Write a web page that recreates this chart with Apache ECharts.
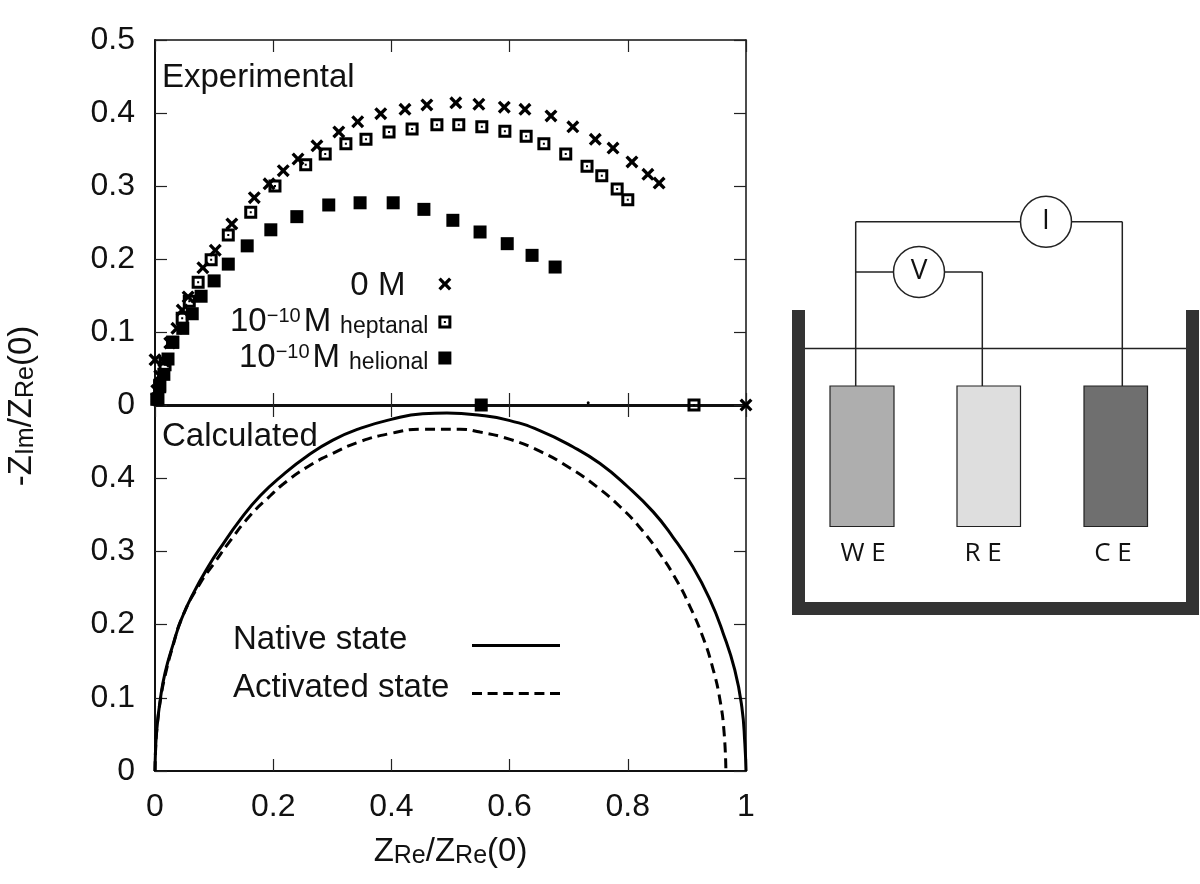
<!DOCTYPE html>
<html><head><meta charset="utf-8">
<style>html,body{margin:0;padding:0;background:#fff}#c{width:1200px;height:884px}</style>
<script src="https://cdn.jsdelivr.net/npm/echarts@6/dist/echarts.min.js"></script>
</head><body><div id="c"></div>
<script>
const crossValues=[[0.003,0.02],[0.008,0.04],[0.015,0.06],[0.025,0.085],[0,0.062],[0.037,0.105],[0.046,0.13],[0.056,0.148],[0.081,0.188],[0.102,0.212],[0.13,0.248],[0.168,0.284],[0.193,0.303],[0.217,0.321],[0.242,0.337],[0.274,0.355],[0.311,0.374],[0.343,0.388],[0.382,0.399],[0.423,0.405],[0.46,0.411],[0.509,0.414],[0.548,0.412],[0.591,0.408],[0.626,0.405],[0.67,0.396],[0.707,0.381],[0.745,0.364],[0.775,0.352],[0.807,0.333],[0.834,0.316],[0.853,0.304],[1,0]];
const heptanalValues=[[0.003,0.008],[0.008,0.027],[0.017,0.055],[0.03,0.086],[0.046,0.119],[0.058,0.142],[0.073,0.168],[0.095,0.199],[0.124,0.233],[0.162,0.264],[0.203,0.3],[0.255,0.329],[0.288,0.344],[0.323,0.358],[0.357,0.364],[0.396,0.374],[0.435,0.378],[0.477,0.384],[0.514,0.384],[0.553,0.381],[0.592,0.375],[0.628,0.368],[0.658,0.358],[0.695,0.344],[0.731,0.327],[0.756,0.314],[0.782,0.296],[0.8,0.281],[0.912,0]];
const helionalValues=[[0.005,0.008],[0.008,0.025],[0.015,0.042],[0.022,0.063],[0.03,0.086],[0.047,0.105],[0.063,0.125],[0.078,0.149],[0.1,0.17],[0.124,0.193],[0.156,0.218],[0.196,0.24],[0.24,0.258],[0.294,0.274],[0.347,0.277],[0.403,0.277],[0.455,0.268],[0.504,0.253],[0.55,0.237],[0.596,0.221],[0.638,0.205],[0.677,0.189],[0.552,0]];
const speckValues=[[0.733,0.003]];
const nativeValues=[[0,0],[0.001,0.03],[0.003,0.056],[0.009,0.098],[0.017,0.134],[0.031,0.174],[0.045,0.208],[0.065,0.243],[0.093,0.283],[0.11,0.304],[0.144,0.343],[0.178,0.376],[0.217,0.405],[0.257,0.43],[0.301,0.452],[0.347,0.468],[0.398,0.48],[0.453,0.488],[0.494,0.489],[0.55,0.486],[0.599,0.479],[0.651,0.465],[0.707,0.443],[0.753,0.42],[0.799,0.389],[0.843,0.354],[0.876,0.32],[0.91,0.279],[0.939,0.234],[0.961,0.189],[0.981,0.138],[0.993,0.087],[0.998,0.038],[1,0]];
const activatedValues=[[0,0],[0.001,0.03],[0.003,0.056],[0.009,0.096],[0.017,0.13],[0.03,0.17],[0.047,0.212],[0.076,0.256],[0.102,0.286],[0.124,0.311],[0.161,0.349],[0.195,0.376],[0.217,0.392],[0.257,0.415],[0.301,0.434],[0.347,0.45],[0.398,0.461],[0.453,0.467],[0.516,0.467],[0.55,0.463],[0.601,0.453],[0.651,0.437],[0.702,0.414],[0.748,0.388],[0.787,0.361],[0.821,0.332],[0.854,0.297],[0.883,0.26],[0.905,0.225],[0.927,0.183],[0.944,0.14],[0.956,0.097],[0.963,0.052],[0.966,0]];
const xLabel='{m|Z}{s|Re}{m|/Z}{s|Re}{m|(0)}';
const yLabel='{m|-Z}{s|Im}{m|/Z}{s|Re}{m|(0)}';
const FONT='"Liberation Sans",Arial,sans-serif', DIAGRAM_FONT='"Open Sans","Noto Sans",sans-serif';
const FS=32, TXT=33;
const crossPath='path://M2 0L5.5 3.5L9 0L11 2L7.5 5.5L11 9L9 11L5.5 7.5L2 11L0 9L3.5 5.5L0 2Z';
const openPath='path://M0 0H13V13H0Z M3 3V10H10V3Z M5.5 5.5H7.5V7.5H5.5Z';
const fullPath='path://M0 0H13V13H0Z';
const solidKey='path://M0 0H88V3H0Z';
const dashKey='path://M0 0H10V3H0Z M15.6 0H25.6V3H15.6Z M31.2 0H41.2V3H31.2Z M46.8 0H56.8V3H46.8Z M62.4 0H72.4V3H62.4Z M78 0H88V3H78Z';
const nameRich={m:{fontFamily:FONT,fontSize:TXT,fill:'#111',color:'#111',verticalAlign:'top',lineHeight:34},
  s:{fontFamily:FONT,fontSize:25,fill:'#111',color:'#111',verticalAlign:'bottom',lineHeight:25,padding:[20,0,0,0]}};
const lg={fontFamily:FONT,fontSize:TXT,color:'#111'};
const legendRich={
  z:{...lg,lineHeight:32,padding:[3,28,0,0]},
  m:{...lg,lineHeight:32,verticalAlign:'bottom',padding:[3,0,0,0]},
  k:{...lg,lineHeight:32,verticalAlign:'bottom',padding:[3,0,0,3]},
  u:{fontFamily:FONT,fontSize:20,color:'#111',verticalAlign:'top',lineHeight:20},
  h:{fontFamily:FONT,fontSize:23,color:'#111',verticalAlign:'bottom',lineHeight:23,padding:[0,5,0,9]},
  w:{...lg,width:234,align:'left',lineHeight:33,padding:[0,0,12,0]}
};
const tick={show:true,inside:true,length:12,lineStyle:{color:'#222',width:1.2}};
function xa(gridIndex,position,width,extra){return Object.assign({type:'value',gridIndex,position,min:0,max:1,interval:0.2,splitLine:{show:false},
  axisLine:{show:true,onZero:false,lineStyle:{color:'#111',width}},axisTick:tick,axisLabel:{show:false}},extra||{});}
function ya(gridIndex,position,width,extra){return Object.assign({type:'value',gridIndex,position,min:0,max:0.5,interval:0.1,splitLine:{show:false},
  axisLine:{show:true,onZero:false,lineStyle:{color:'#111',width}},axisTick:tick,axisLabel:{show:false}},extra||{});}
const scatter=(name,data,symbol,symbolSize)=>({name,type:'scatter',xAxisIndex:0,yAxisIndex:0,data,symbol,symbolSize,clip:false,itemStyle:{color:'#000',opacity:1},emphasis:{disabled:true}});
const curve=(name,data,type)=>({name,type:'line',xAxisIndex:2,yAxisIndex:2,data,showSymbol:false,symbol:'none',smooth:0.5,clip:false,lineStyle:{color:'#000',width:3,type},itemStyle:{color:'#000'},emphasis:{disabled:true}});
const wire={stroke:'#222',lineWidth:1.5,fill:null};
const ln=(x1,y1,x2,y2)=>({type:'line',shape:{x1,y1,x2,y2},style:wire,z:10});
const rc=(x,y,width,height,fill,stroke,lw)=>({type:'rect',shape:{x,y,width,height},style:{fill,stroke:stroke||null,lineWidth:lw||0},z:11});
const circ=(cx,cy,r)=>({type:'circle',shape:{cx,cy,r},style:{fill:'#fff',stroke:'#222',lineWidth:1.5},z:12});
const dt=(x,y,text,fs)=>({type:'text',x,y,z:13,style:{text,x:0,y:0,fill:'#111',font:(fs||26)+'px '+DIAGRAM_FONT,textAlign:'center',textVerticalAlign:'middle'}});
const pt=(x,y,text)=>({type:'text',x,y,z:13,style:{text,x:0,y:0,fill:'#111',font:TXT+'px '+FONT,textAlign:'left',textVerticalAlign:'middle'}});
const yTickLabel=f=>({show:true,fontFamily:FONT,fontSize:FS,color:'#111',margin:20,lineHeight:32,padding:[6,0,0,0],formatter:f});
const option={
  animation:false,backgroundColor:'#fff',
  grid:[{left:155,top:40,width:591,height:365,outerBoundsMode:'none'},{left:155,top:405,width:591,height:366,outerBoundsMode:'none'}],
  xAxis:[xa(0,'bottom',3),xa(0,'top',1.5),
    xa(1,'bottom',2,{axisLabel:{show:true,fontFamily:FONT,fontSize:FS,color:'#111',margin:20,formatter:v=>String(v)},
      name:xLabel,nameLocation:'middle',nameGap:64,nameTextStyle:{rich:nameRich}}),
    xa(1,'top',1.5)],
  yAxis:[ya(0,'left',2,{axisLabel:yTickLabel(v=>String(v))}),ya(0,'right',1.5),
    ya(1,'left',2,{axisLabel:yTickLabel(v=>v>=0.5?'':String(v))}),
    ya(1,'right',1.5)],
  legend:[
   {show:true,left:225,top:261,orient:'vertical',align:'right',itemWidth:13,itemHeight:13,itemGap:0,selectedMode:false,
    data:[{name:'0 M',icon:crossPath},{name:'heptanal',icon:openPath},{name:'helional',icon:fullPath}],
    formatter:n=>n==='0 M'?'{z|0 M}':'{m|10}{u|−10}{k|M}{h|'+n+'}',
    textStyle:{rich:legendRich,fontFamily:FONT,fontSize:TXT}},
   {show:true,left:228,top:618,orient:'vertical',align:'right',itemWidth:88,itemHeight:3,itemGap:3,selectedMode:false,
    data:[{name:'Native state',icon:solidKey},{name:'Activated state',icon:dashKey}],
    formatter:n=>'{w|'+n+'}',
    textStyle:{rich:legendRich,fontFamily:FONT,fontSize:TXT}}
  ],
  graphic:{elements:[
    pt(162,78,'Experimental'),pt(162,437,'Calculated'),
    {type:'text',x:22,y:406,rotation:Math.PI/2,z:13,style:{text:yLabel,rich:nameRich,align:'center',verticalAlign:'middle',fontFamily:FONT,fontSize:TXT}},
    ln(805,348.5,1186,348.5),ln(855.7,386,855.7,221.7),ln(855.7,221.7,1122.3,221.7),ln(1122.3,221.7,1122.3,386),
    ln(855.7,272,982.3,272),ln(982.3,272,982.3,386),
    rc(792,310,13,305,'#333'),rc(1186,310,13,305,'#333'),rc(792,602,407,13,'#333'),
    rc(830,386,64,140.5,'#aeaeae','#222',1.2),rc(957,386,63.5,140.5,'#dedede','#222',1.2),rc(1084,386,63.5,140.5,'#6f6f6f','#222',1.2),
    circ(919,272,25.5),circ(1046,221.7,25.5),
    dt(919,271,'V',28),dt(1046,221,'I',28),dt(863,554,'W E'),dt(983,554,'R E'),dt(1113,554,'C E')
  ]},
  series:[
    scatter('0 M',crossValues,crossPath,13),
    scatter('heptanal',heptanalValues,openPath,13),
    scatter('helional',helionalValues,fullPath,13),
    scatter('speck',speckValues,'circle',3),
    curve('Native state',nativeValues,'solid'),
    curve('Activated state',activatedValues,[10,6])
  ]
};
const chart=echarts.init(document.getElementById('c'),null,{renderer:'canvas'});
chart.setOption(option);
</script></body></html>
